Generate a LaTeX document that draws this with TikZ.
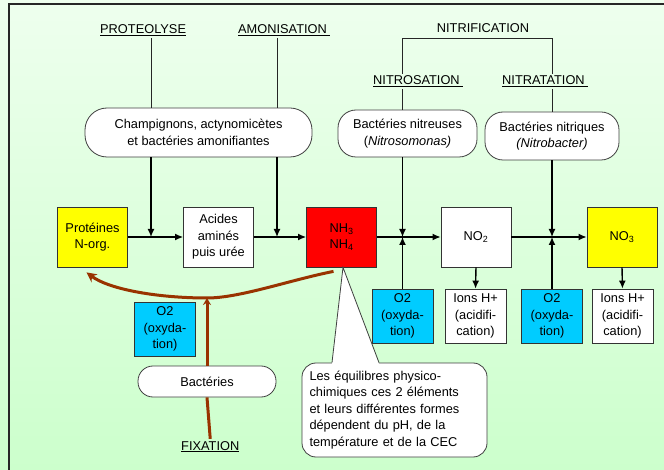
\documentclass[tikz,border=0pt]{standalone}
\usepackage{fontspec}
\setmainfont{Liberation Sans}
\usetikzlibrary{arrows.meta,calc}

\definecolor{fondhaut}{HTML}{EEFFEE}
\definecolor{fondbas}{HTML}{CCFFCC}
\definecolor{jaune}{HTML}{FFFF00}
\definecolor{rouge}{HTML}{FF0000}
\definecolor{bleuox}{HTML}{00CCFF}
\definecolor{brun}{HTML}{993300}

\tikzset{
  boite/.style={draw=black!80, line width=0.8pt, align=center, inner sep=1pt},
  gros/.style={boite, minimum width=70pt, minimum height=60pt},
  petit/.style={boite, minimum width=61pt, minimum height=54pt},
  capsule/.style={draw=black!75, fill=white, line width=0.8pt, rounded corners=#1, align=center},
  capsule/.default=16pt,
  bulle/.style={draw=black!75, fill=white, line width=0.8pt, rounded corners=14pt,
    align=left, text width=170pt, inner xsep=7.5pt, minimum height=94pt},
  titre/.style={inner sep=2pt},
  trait/.style={black!85, line width=0.8pt},
  fleche/.style={-{Latex[length=8pt,width=7pt]}, line width=1.4pt},
  brunfl/.style={brun, line width=3pt}
}

\begin{document}
\begin{tikzpicture}[x=1pt,y=-1pt,font=\fontsize{12.8}{16.5}\selectfont]
  \shade[top color=fondhaut,bottom color=fondbas] (0,0) rectangle (664,470);
  \useasboundingbox (0,0) rectangle (664,470);
  \draw[black!85,line width=1.3pt] (9,470) -- (9,4) -- (664,4);

  % titres
  \node[titre,anchor=base west] (proteo) at (98,34) {\underline{PROTEOLYSE}};
  \node[titre,anchor=base west] (amoni) at (236,34) {\underline{AMONISATION\ }};
  \node[titre,anchor=base] (nitrif) at (483,33) {NITRIFICATION};
  \node[titre,anchor=base west] (nitros) at (371,85) {\underline{NITROSATION\ }};
  \node[titre,anchor=base west] (nitrat) at (500,85) {\underline{NITRATATION\ }};
  \node[titre,anchor=base west] (fixation) at (179,450) {\underline{FIXATION}};

  % micro-organismes
  \node[capsule=22pt, minimum width=227pt, minimum height=49pt] (champ) at (198.5,132.5)
    {Champignons, actynomicètes\\et bactéries amonifiantes};
  \node[capsule=18pt, minimum width=139pt, minimum height=47pt] (nitreuses) at (407.5,133.5)
    {Bactéries nitreuses\\(\textit{Nitrosomonas)}};
  \node[capsule=18pt, minimum width=134pt, minimum height=48pt] (nitriques) at (552,136)
    {Bactéries nitriques\\\textit{(Nitrobacter)}};
  \node[capsule=15pt, minimum width=138pt, minimum height=31pt] (bact) at (207,381.5) {Bactéries};

  % chaine principale
  \node[gros, fill=jaune] (prot) at (92.5,237) {Protéines\\N-org.};
  \node[gros, fill=white] (acides) at (218.5,237) {Acides\\aminés\\puis urée};
  \node[gros, fill=rouge] (nh) at (341.5,237) {NH\textsubscript{3}\\NH\textsubscript{4}};
  \node[gros, fill=white] (no2) at (476,237) {NO\textsubscript{2}};
  \node[gros, fill=jaune] (no3) at (622,237) {NO\textsubscript{3}};

  \node[petit, fill=bleuox] (oxA) at (165,329) {O2\\(oxyda-\\tion)};
  \node[petit, fill=bleuox] (oxB) at (402.5,316) {O2\\(oxyda-\\tion)};
  \node[petit, fill=white] (ionsA) at (475.5,316) {Ions H+\\(acidifi-\\cation)};
  \node[petit, fill=bleuox] (oxC) at (552,316) {O2\\(oxyda-\\tion)};
  \node[petit, fill=white] (ionsB) at (622.5,316) {Ions H+\\(acidifi-\\cation)};

  \coordinate (j1) at (151,237);
  \coordinate (j2) at (277,237);
  \coordinate (j3) at (402.5,237);
  \coordinate (j4) at (552,237);
  \coordinate (fix) at (207,298);

  % liaisons des titres
  \draw[trait] (proteo.south -| j1) -- (champ.north -| j1);
  \draw[trait] (amoni.south -| j2) -- (champ.north -| j2);
  \draw[trait] (j3 |- nitros.north) |- ([yshift=-3pt]nitrif.south) -| (j4 |- nitrat.north);
  \draw[trait] (nitros.south -| j3) -- (nitreuses.north -| j3);
  \draw[trait] (nitrat.south -| j4) -- (nitriques.north -| j4);

  % fleches
  \draw[fleche] (prot) -- (acides);
  \draw[fleche] (acides) -- (nh);
  \draw[fleche] (nh) -- (no2);
  \draw[fleche] (no2) -- (no3);
  \draw[fleche] (champ.south -| j1) -- (j1);
  \draw[fleche] (champ.south -| j2) -- (j2);
  \draw[fleche] (nitreuses.south -| j3) -- (j3);
  \draw[fleche] (oxB.north) -- (j3);
  \draw[fleche] (nitriques.south -| j4) -- (j4);
  \draw[fleche] (oxC.north) -- (j4);
  \draw[fleche] (no2.south) -- (ionsA.north);
  \draw[fleche] (no3.south) -- (ionsB.north);

  % fixation
  \draw[brunfl] (fixation.north) -- (bact.south);
  \draw[brunfl, -{Stealth[length=7pt,width=8pt]}] (bact.north) -- (fix);
  \draw[brunfl, -{Stealth[length=10pt,width=10pt]}] ($(nh.south)+(-8,4)$)
    .. controls (290,280) and (240,298) .. (fix)
    .. controls (160,298) and (110,290) .. ($(prot.south)+(-6,5)$);

  % bulle
  \node[bulle] (bulle) at (394.5,410)
    {Les équilibres physico-\\chimiques ces 2 éléments\\et leurs différentes formes\\dépendent du pH, de la\\température et de la CEC};
  \coordinate (pointe) at ($(nh.south)+(1.5,0)$);
  \coordinate (baseG) at ($(bulle.north)+(-62.5,0)$);
  \coordinate (baseD) at ($(bulle.north)+(-15.5,0)$);
  \fill[white] ($(baseG)+(0,1.5)$) -- (pointe) -- ($(baseD)+(0,1.5)$) -- cycle;
  \draw[black!75, line width=0.8pt] (baseG) -- (pointe) -- (baseD);
\end{tikzpicture}
\end{document}
